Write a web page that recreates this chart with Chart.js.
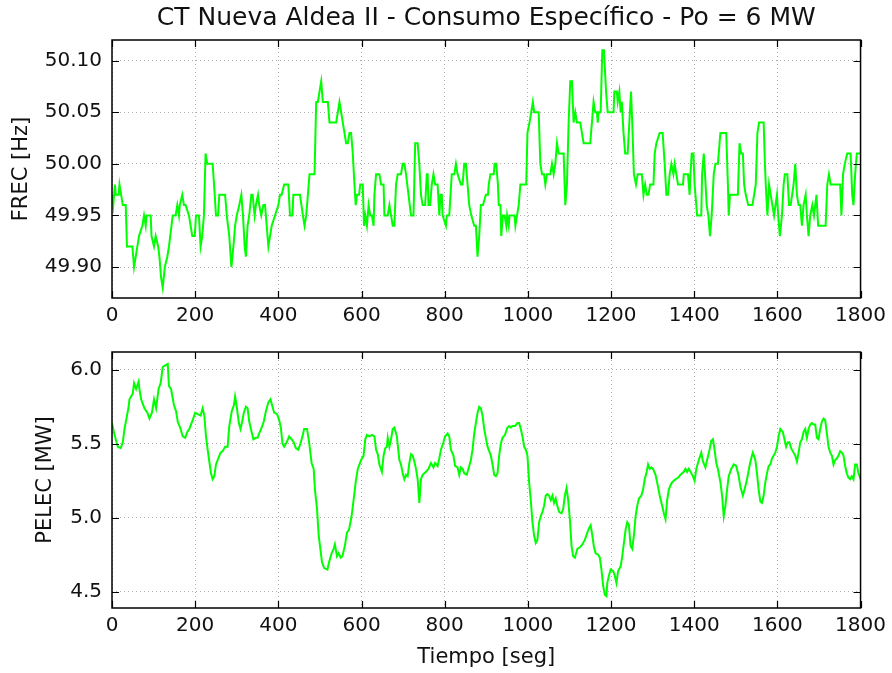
<!DOCTYPE html>
<html>
<head>
<meta charset="utf-8">
<title>CT Nueva Aldea II - Consumo Específico</title>
<script src="https://cdn.jsdelivr.net/npm/chart.js@4.4.1/dist/chart.umd.min.js"></script>
<style>
  html, body { margin: 0; padding: 0; background: #fff; }
  #wrap { position: relative; width: 892px; height: 673px; }
  #wrap canvas { position: absolute; left: 0; }
  #frecChart { top: 0; }
  #pelecChart { top: 330px; }
</style>
</head>
<body>
<div id="wrap">
  <canvas id="frecChart" width="892" height="330"></canvas>
  <canvas id="pelecChart" width="892" height="343"></canvas>
</div>
<script>
// Frecuencia de red [Hz] vs tiempo [seg]
const frecTime = [
  0, 3, 7, 9, 16, 18, 22, 26, 33, 36, 49, 53, 57, 65, 73, 77, 81, 83, 93, 95,
  101, 105, 111, 114, 118, 122, 127, 133, 137, 143, 146, 153, 157, 161, 163, 169, 173, 177, 185, 189,
  193, 199, 202, 209, 213, 217, 221, 225, 229, 242, 247, 250, 255, 258, 272, 276, 282, 287, 292, 296,
  300, 306, 311, 315, 319, 322, 326, 330, 335, 338, 343, 346, 351, 354, 359, 364, 368, 372, 376, 380,
  384, 392, 400, 404, 408, 414, 424, 428, 434, 436, 452,
  459, 463, 467, 471, 475, 487, 491, 495, 499, 503, 507, 519, 523, 539, 543, 547, 551, 555, 559, 563,
  567, 571, 575, 579, 583, 586, 589, 594, 597, 603, 606, 609, 613, 617, 621, 625, 629, 631, 635, 643,
  647, 653, 655, 663, 667, 671, 675, 679, 683, 687, 695, 699, 703, 707, 719, 725, 729, 735, 739, 743,
  747, 753, 757, 759, 761, 765, 769, 773, 777, 783, 787, 790, 793, 795, 803, 805, 811, 817, 823, 827,
  831, 839, 843, 847, 851, 855, 859, 864, 871, 875, 879, 883, 887, 892, 899,
  904, 906, 910, 918, 920, 924, 928, 930, 934, 936, 940, 944, 948, 950, 954, 956, 968, 970, 974, 978,
  982, 996, 999, 1004, 1008, 1012, 1015, 1026, 1030, 1034, 1039, 1042, 1046, 1054, 1058, 1062, 1066, 1070, 1074, 1086,
  1090, 1094, 1098, 1102, 1106, 1110, 1114, 1118, 1126, 1130, 1134, 1150, 1154, 1158, 1162, 1166, 1168, 1170, 1175, 1179,
  1183, 1188, 1192, 1206, 1208, 1214, 1216, 1220, 1223, 1226, 1230, 1234, 1240, 1244, 1248, 1251, 1255, 1260, 1264, 1274,
  1278, 1282, 1286, 1290, 1294, 1302, 1305, 1309, 1317, 1324, 1329, 1333, 1337, 1341, 1345, 1350,
  1353, 1357, 1361, 1373, 1375, 1385, 1389, 1391, 1394, 1398, 1401, 1405, 1407, 1417, 1419, 1423, 1426, 1430, 1434, 1438,
  1442, 1447, 1451, 1457, 1461, 1463, 1477, 1481, 1483, 1486, 1505, 1509, 1513, 1517, 1520, 1524, 1530, 1540, 1544, 1548,
  1552, 1556, 1567, 1570, 1572, 1576, 1580, 1584, 1588, 1592, 1599, 1602, 1606, 1611, 1615, 1618, 1624, 1628, 1632, 1639,
  1643, 1647, 1651, 1655, 1659, 1663, 1668, 1671, 1675, 1679, 1684, 1688, 1694, 1698, 1716, 1720, 1724, 1728, 1751, 1754,
  1758, 1762, 1768, 1776, 1780, 1783, 1787, 1791, 1800
];
const frecValue = [
  49.97, 49.96, 49.98, 49.97, 49.97, 49.98, 49.97, 49.96, 49.96, 49.92, 49.92, 49.90, 49.91, 49.93, 49.94, 49.95, 49.94, 49.95, 49.95, 49.93,
  49.92, 49.93, 49.92, 49.91, 49.89, 49.88, 49.90, 49.91, 49.92, 49.94, 49.95, 49.95, 49.96, 49.95, 49.96, 49.97, 49.96, 49.96, 49.95, 49.94,
  49.93, 49.93, 49.95, 49.95, 49.92, 49.93, 49.95, 50.01, 50.00, 50.00, 49.97, 49.95, 49.95, 49.97, 49.97, 49.95, 49.93, 49.90, 49.92, 49.94,
  49.95, 49.96, 49.97, 49.95, 49.92, 49.91, 49.94, 49.95, 49.97, 49.97, 49.95, 49.96, 49.97, 49.96, 49.95, 49.96, 49.96, 49.94, 49.92, 49.93,
  49.94, 49.95, 49.96, 49.97, 49.97, 49.98, 49.98, 49.95, 49.95, 49.97, 49.97,
  49.95, 49.94, 49.95, 49.97, 49.99, 49.99, 50.06, 50.06, 50.07, 50.08, 50.06, 50.06, 50.04, 50.04, 50.05, 50.06, 50.05, 50.04, 50.03, 50.02,
  50.02, 50.03, 50.03, 50.01, 49.98, 49.96, 49.97, 49.97, 49.98, 49.98, 49.94, 49.95, 49.94, 49.96, 49.95, 49.95, 49.94, 49.97, 49.99, 49.99,
  49.98, 49.98, 49.95, 49.95, 49.96, 49.95, 49.94, 49.94, 49.98, 49.99, 49.99, 50.00, 50.00, 49.99, 49.95, 49.95, 50.02, 50.02, 50.00, 49.97,
  49.96, 49.96, 49.99, 49.99, 49.96, 49.96, 49.98, 49.99, 49.98, 49.98, 49.95, 49.97, 49.97, 49.95, 49.94, 49.95, 49.95, 49.99, 49.99, 50.00,
  49.99, 49.98, 49.98, 50.00, 50.00, 49.98, 49.96, 49.95, 49.94, 49.94, 49.91, 49.93, 49.96, 49.96, 49.97,
  49.97, 49.98, 49.99, 49.99, 50.00, 50.00, 49.98, 49.96, 49.96, 49.93, 49.95, 49.95, 49.94, 49.95, 49.94, 49.95, 49.95, 49.94, 49.95, 49.96,
  49.98, 49.98, 50.03, 50.04, 50.05, 50.06, 50.05, 50.05, 50.00, 49.99, 49.99, 49.98, 49.99, 49.99, 50.00, 49.99, 50.00, 50.02, 50.01, 50.01,
  49.96, 49.98, 50.04, 50.08, 50.08, 50.04, 50.05, 50.04, 50.04, 50.03, 50.02, 50.02, 50.04, 50.06, 50.05, 50.05, 50.04, 50.05, 50.05, 50.11,
  50.11, 50.07, 50.05, 50.05, 50.07, 50.07, 50.06, 50.07, 50.05, 50.06, 50.03, 50.01, 50.01, 50.04, 50.07, 50.04, 49.99, 49.98, 49.99, 49.99,
  49.97, 49.98, 49.97, 49.97, 49.98, 49.98, 50.01, 50.02, 50.03, 50.03, 50.00, 49.97, 49.97, 49.99, 50.00, 49.99,
  50.00, 49.99, 49.98, 49.98, 49.99, 49.99, 49.97, 49.99, 50.01, 50.01, 49.98, 49.96, 49.95, 49.95, 49.99, 50.01, 49.99, 49.96, 49.95, 49.93,
  49.95, 49.99, 50.00, 50.00, 50.02, 50.03, 50.03, 49.98, 49.95, 49.97, 49.97, 50.02, 50.01, 50.01, 49.98, 49.97, 49.96, 49.96, 49.97, 49.98,
  50.03, 50.04, 50.04, 50.00, 49.98, 49.95, 49.98, 49.97, 49.96, 49.95, 49.97, 49.95, 49.93, 49.95, 49.98, 49.99, 49.99, 49.96, 49.96, 49.98,
  50.00, 49.97, 49.96, 49.96, 49.94, 49.96, 49.97, 49.95, 49.93, 49.95, 49.96, 49.95, 49.97, 49.94, 49.94, 49.98, 49.99, 49.98, 49.98, 49.95,
  49.99, 50.00, 50.01, 50.01, 49.97, 49.96, 49.99, 50.01, 50.01
];

// Potencia eléctrica [MW] vs tiempo [seg]
const pelecTime = [
  0, 6, 14, 21, 26, 30, 34, 40, 42, 50, 53, 58, 64, 66, 70, 78, 85, 90, 96, 101,
  106, 112, 117, 122, 128, 134, 137, 142, 149, 154, 158, 165, 170, 176, 181, 186, 194, 200, 206, 213,
  218, 222, 226, 230, 234, 238, 242, 246, 250, 254, 261, 266, 272, 278, 282, 288, 293, 296, 300, 305,
  309, 313, 317, 322, 326, 330, 334, 340, 345, 350, 354, 360, 365, 370, 376, 381, 386, 390, 397, 402,
  406, 410, 414, 420, 426, 432, 437, 442, 448, 453, 458, 462, 469, 474, 480, 485, 488, 493, 497, 501,
  505, 510, 518, 522, 528, 533, 536, 541, 545, 550, 554, 560, 565, 570, 576, 581, 586,
  591, 595, 599, 605, 609, 613, 619, 625, 631, 635, 639, 643, 649, 653, 657, 661, 663, 667, 671, 675,
  679, 685, 691, 695, 699, 703, 707, 711, 715, 719, 723, 727, 731, 735, 739, 743, 747, 755, 761, 767,
  773, 777, 783, 787, 791, 797, 801, 807, 811, 815, 821, 825, 831, 835, 839, 843, 847, 853, 857, 863,
  867, 871, 875, 879, 883, 887, 891, 895, 899, 903, 907, 911, 915, 919, 923, 927, 931, 935, 939, 945,
  951, 955, 959, 963, 969, 975, 979, 983, 987, 991, 995, 999, 1003, 1007, 1011, 1015, 1019, 1023, 1027, 1031,
  1035, 1039, 1043, 1047, 1051, 1055, 1059, 1063, 1067, 1071, 1075, 1081, 1085, 1089, 1093, 1097, 1101, 1105, 1109, 1113,
  1119, 1125, 1131, 1137, 1143, 1147, 1151, 1155, 1159, 1163, 1169, 1173, 1177, 1181, 1185,
  1189, 1191, 1195, 1199, 1205, 1209, 1213, 1217, 1223, 1227, 1231, 1235, 1239, 1243, 1247, 1251, 1255, 1259, 1263, 1267,
  1273, 1277, 1281, 1285, 1289, 1293, 1297, 1301, 1307, 1313, 1317, 1323, 1327, 1331, 1335, 1339, 1343, 1347, 1351, 1355,
  1361, 1367, 1371, 1375, 1379, 1383, 1387, 1391, 1397, 1401, 1405, 1411, 1417, 1421, 1427, 1431, 1437, 1441, 1445, 1449,
  1453, 1457, 1463, 1467, 1471, 1475, 1479, 1483, 1489, 1495, 1501, 1507, 1511, 1517, 1521, 1527, 1533, 1537, 1541, 1547,
  1551, 1555, 1559, 1563, 1567, 1571, 1575, 1579, 1583, 1587, 1591, 1595, 1599, 1603, 1607, 1613, 1617, 1621, 1625, 1629,
  1633, 1639, 1643, 1647, 1651, 1655, 1659, 1663, 1667, 1671, 1675, 1679, 1683, 1687, 1691, 1695, 1699, 1703, 1707, 1711,
  1715, 1719, 1723, 1727, 1731, 1735, 1739, 1743, 1747, 1751, 1755, 1759, 1763, 1767, 1771, 1775, 1779, 1783, 1787, 1791,
  1795, 1800
];
const pelecValue = [
  5.64, 5.56, 5.48, 5.47, 5.51, 5.60, 5.66, 5.75, 5.80, 5.84, 5.91, 5.87, 5.92, 5.87, 5.80, 5.74, 5.71, 5.67, 5.71, 5.80,
  5.74, 5.87, 5.91, 6.02, 6.03, 6.04, 5.89, 5.87, 5.76, 5.72, 5.65, 5.60, 5.55, 5.54, 5.58, 5.60, 5.66, 5.71, 5.70, 5.69,
  5.74, 5.69, 5.55, 5.46, 5.38, 5.30, 5.26, 5.28, 5.36, 5.39, 5.44, 5.45, 5.48, 5.48, 5.62, 5.72, 5.76, 5.82, 5.75, 5.64,
  5.60, 5.65, 5.71, 5.75, 5.74, 5.65, 5.60, 5.53, 5.54, 5.54, 5.57, 5.61, 5.65, 5.72, 5.78, 5.80, 5.75, 5.71, 5.70, 5.66,
  5.61, 5.50, 5.48, 5.51, 5.55, 5.53, 5.51, 5.47, 5.46, 5.50, 5.55, 5.60, 5.60, 5.51, 5.37, 5.33, 5.19, 5.06, 4.88, 4.79,
  4.70, 4.66, 4.65, 4.70, 4.76, 4.79, 4.82, 4.74, 4.76, 4.73, 4.74, 4.81, 4.90, 4.92, 5.01, 5.12, 5.24,
  5.33, 5.36, 5.39, 5.42, 5.53, 5.56, 5.55, 5.56, 5.55, 5.46, 5.43, 5.36, 5.31, 5.42, 5.47, 5.48, 5.54, 5.48, 5.53, 5.60,
  5.61, 5.55, 5.39, 5.36, 5.30, 5.26, 5.29, 5.28, 5.37, 5.43, 5.42, 5.38, 5.33, 5.26, 5.10, 5.26, 5.29, 5.31, 5.33, 5.37,
  5.34, 5.37, 5.35, 5.40, 5.46, 5.51, 5.55, 5.57, 5.55, 5.46, 5.42, 5.35, 5.34, 5.29, 5.34, 5.33, 5.30, 5.29, 5.33, 5.39,
  5.46, 5.57, 5.64, 5.71, 5.75, 5.74, 5.69, 5.60, 5.54, 5.48, 5.45, 5.42, 5.36, 5.29, 5.28, 5.30, 5.42, 5.50, 5.54, 5.56,
  5.61, 5.62, 5.61, 5.62, 5.62, 5.64, 5.64, 5.60, 5.55, 5.48, 5.46, 5.42, 5.24, 5.12, 4.97, 4.88, 4.83, 4.85, 4.97, 5.01,
  5.04, 5.08, 5.15, 5.16, 5.15, 5.12, 5.15, 5.10, 5.13, 5.08, 5.04, 5.03, 5.06, 5.15, 5.20, 5.12, 4.99, 4.81, 4.74, 4.73,
  4.79, 4.80, 4.82, 4.85, 4.90, 4.93, 4.95, 4.88, 4.80, 4.76, 4.75, 4.73, 4.65, 4.54, 4.48,
  4.47, 4.56, 4.61, 4.65, 4.64, 4.61, 4.56, 4.64, 4.67, 4.74, 4.83, 4.92, 4.97, 4.95, 4.81, 4.79, 4.88, 5.01, 5.08, 5.13,
  5.15, 5.19, 5.26, 5.30, 5.36, 5.33, 5.34, 5.33, 5.29, 5.21, 5.15, 5.08, 5.03, 4.99, 5.12, 5.19, 5.22, 5.24, 5.25, 5.26,
  5.27, 5.29, 5.30, 5.31, 5.33, 5.31, 5.33, 5.31, 5.28, 5.25, 5.33, 5.39, 5.44, 5.38, 5.34, 5.39, 5.46, 5.52, 5.53, 5.46,
  5.37, 5.33, 5.24, 5.15, 5.01, 5.08, 5.19, 5.28, 5.33, 5.36, 5.35, 5.28, 5.21, 5.15, 5.19, 5.26, 5.35, 5.40, 5.44, 5.39,
  5.30, 5.19, 5.11, 5.10, 5.15, 5.24, 5.30, 5.35, 5.36, 5.40, 5.42, 5.44, 5.48, 5.55, 5.60, 5.58, 5.53, 5.48, 5.51, 5.51,
  5.47, 5.44, 5.42, 5.38, 5.44, 5.51, 5.53, 5.58, 5.60, 5.54, 5.60, 5.63, 5.64, 5.63, 5.63, 5.54, 5.53, 5.60, 5.65, 5.67,
  5.66, 5.57, 5.48, 5.44, 5.42, 5.36, 5.39, 5.40, 5.42, 5.45, 5.44, 5.42, 5.35, 5.30, 5.27, 5.26, 5.28, 5.26, 5.36, 5.36,
  5.30, 5.26
];

// Ticks de los ejes
const timeTicks = [0, 200, 400, 600, 800, 1000, 1200, 1400, 1600, 1800];
const frecTicks = [49.90, 49.95, 50.00, 50.05, 50.10];
const pelecTicks = [4.5, 5.0, 5.5, 6.0];

const LINE_COLOR = '#00ff00';
const FONT = 'DejaVu Sans';

// Marco negro y ticks hacia adentro en los cuatro lados (estilo matplotlib)
const frameTicks = {
    id: 'frameTicks',
    afterDatasetsDraw(chart) {
        const { ctx, chartArea: a, scales } = chart;
        const len = 7;
        ctx.save();
        ctx.strokeStyle = '#000';
        ctx.lineWidth = 1.2;
        ctx.beginPath();
        scales.x.ticks.forEach(t => {
            const px = Math.round(scales.x.getPixelForValue(t.value)) + 0.5;
            ctx.moveTo(px, a.bottom); ctx.lineTo(px, a.bottom - len);
            ctx.moveTo(px, a.top); ctx.lineTo(px, a.top + len);
        });
        scales.y.ticks.forEach(t => {
            const py = Math.round(scales.y.getPixelForValue(t.value)) + 0.5;
            ctx.moveTo(a.left, py); ctx.lineTo(a.left + len, py);
            ctx.moveTo(a.right, py); ctx.lineTo(a.right - len, py);
        });
        ctx.stroke();
        ctx.lineWidth = 1.5;
        ctx.strokeRect(a.left, a.top, a.right - a.left, a.bottom - a.top);
        ctx.restore();
    }
};

function makeChart(canvasId, cfg) {
    const ctx = document.getElementById(canvasId).getContext('2d');
    const points = cfg.time.map((t, i) => ({ x: t, y: cfg.values[i] }));

    return new Chart(ctx, {
        type: 'line',
        data: {
            datasets: [{
                data: points,
                borderColor: LINE_COLOR,
                borderWidth: 2,
                pointRadius: 0,
                tension: 0,
                fill: false
            }]
        },
        options: {
            responsive: false,
            animation: false,
            layout: { padding: cfg.padding },
            scales: {
                x: {
                    type: 'linear',
                    min: 0,
                    max: 1800,
                    afterBuildTicks: s => { s.ticks = timeTicks.map(v => ({ value: v })); },
                    afterFit: s => { s.height = cfg.xHeight; },
                    grid: { color: '#b0b0b0', lineWidth: 1, drawTicks: false },
                    border: { display: false, dash: [1, 3] },
                    ticks: {
                        autoSkip: false,
                        maxRotation: 0,
                        padding: 6,
                        color: '#111',
                        font: { family: FONT, size: 20 },
                        callback: v => String(v)
                    },
                    title: cfg.xTitle ? {
                        display: true,
                        text: cfg.xTitle,
                        color: '#111',
                        font: { family: FONT, size: 21 },
                        padding: { top: 0, bottom: 3 }
                    } : { display: false }
                },
                y: {
                    min: cfg.yMin,
                    max: cfg.yMax,
                    afterBuildTicks: s => { s.ticks = cfg.yTicks.map(v => ({ value: v })); },
                    afterFit: s => { s.width = cfg.yWidth; },
                    grid: { color: '#b0b0b0', lineWidth: 1, drawTicks: false },
                    border: { display: false, dash: [1, 3] },
                    ticks: {
                        padding: 10,
                        color: '#111',
                        font: { family: FONT, size: 20 },
                        callback: v => v.toFixed(cfg.decimals)
                    },
                    title: {
                        display: true,
                        text: cfg.yTitle,
                        color: '#111',
                        font: { family: FONT, size: 21 },
                        padding: { top: cfg.yTitlePad, bottom: 0 }
                    }
                }
            },
            plugins: {
                legend: { display: false },
                tooltip: { enabled: false },
                title: cfg.title ? {
                    display: true,
                    text: cfg.title,
                    fullSize: false,
                    color: '#111',
                    font: { family: FONT, size: 25, weight: 'normal' },
                    padding: { top: 3, bottom: 40 - 3 - 30 }
                } : { display: false }
            }
        },
        plugins: [frameTicks]
    });
}

document.addEventListener('DOMContentLoaded', function () {
    if (typeof Chart === 'undefined') {
        console.error('Chart.js library not loaded.');
        return;
    }

    makeChart('frecChart', {
        time: frecTime,
        values: frecValue,
        yMin: 49.87,
        yMax: 50.12,
        yTicks: frecTicks,
        decimals: 2,
        yTitle: 'FREC [Hz]',
        yTitlePad: 9,
        yWidth: 112,
        xHeight: 32,
        padding: { left: 0, right: 30, top: 0, bottom: 0 },
        title: 'CT Nueva Aldea II - Consumo Específico - Po = 6 MW'
    });

    makeChart('pelecChart', {
        time: pelecTime,
        values: pelecValue,
        yMin: 4.39,
        yMax: 6.12,
        yTicks: pelecTicks,
        decimals: 1,
        yTitle: 'PELEC [MW]',
        yTitlePad: 9,
        yWidth: 88,
        xHeight: 65,
        xTitle: 'Tiempo [seg]',
        padding: { left: 24, right: 30, top: 20, bottom: 0 }
    });
});
</script>
</body>
</html>
